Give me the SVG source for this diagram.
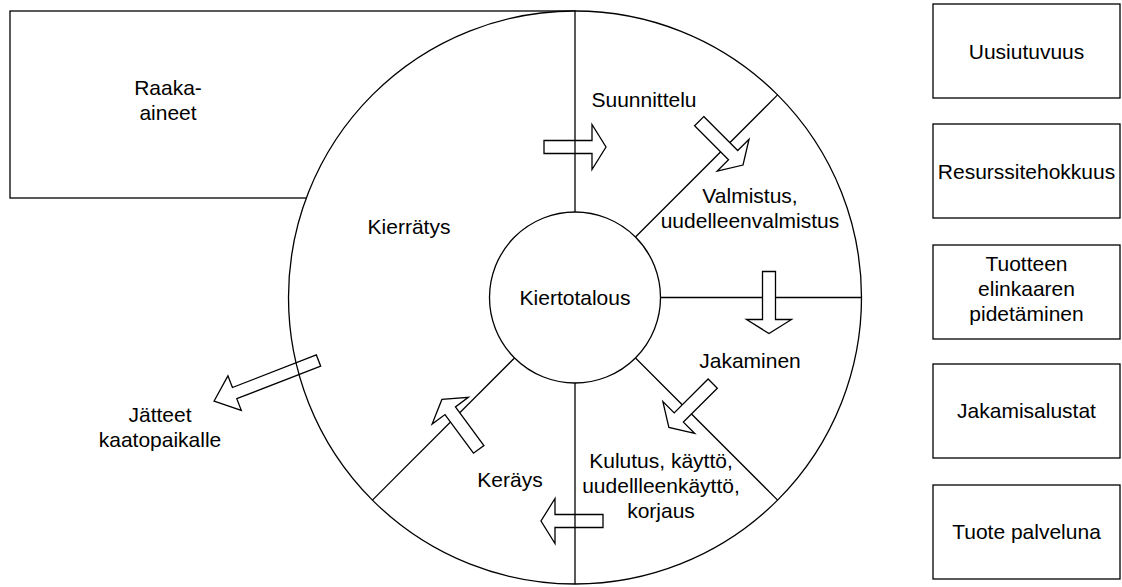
<svg xmlns="http://www.w3.org/2000/svg" width="1122" height="587" viewBox="0 0 1122 587">
<defs>
<style>
.ln{stroke:#000;stroke-width:1.3;fill:none}
.sh{stroke:#000;stroke-width:1.3;fill:#fff}
.ar{stroke:#000;stroke-width:1.3;fill:#fff;stroke-linejoin:miter}
.arn{stroke:#000;stroke-width:1.3;fill:none;stroke-linejoin:miter}
text{font-family:"Liberation Sans",Arial,sans-serif;font-size:21px;fill:#000;text-anchor:middle}
</style>
<path id="arw" d="M-31,-6.5 H17 V-22.5 L31,0 L17,22.5 V6.5 H-31 Z"/>
</defs>
<rect width="1122" height="587" fill="#fff"/>
<g id="raaka-aineet">
<rect class="sh" x="10" y="11" width="565" height="187"/>
</g>
<g id="outer-circle">
<circle class="sh" cx="575" cy="297.5" r="286.5"/>
</g>
<g id="connectors">
<line class="ln" x1="575" y1="212" x2="575" y2="11"/>
<line class="ln" x1="635.5" y1="237" x2="777.6" y2="94.9"/>
<line class="ln" x1="660.5" y1="297.5" x2="861.5" y2="297.5"/>
<line class="ln" x1="635.5" y1="358" x2="777.6" y2="500.1"/>
<line class="ln" x1="575" y1="383" x2="575" y2="584"/>
<line class="ln" x1="514.5" y1="358" x2="372.4" y2="500.1"/>
<use href="#arw" class="arn" transform="translate(575,147) rotate(0)"/>
<use href="#arw" class="ar" transform="translate(721.1,143.1) rotate(45)"/>
<use href="#arw" class="ar" transform="translate(769,302.5) rotate(90)"/>
<use href="#arw" class="ar" transform="translate(690.8,405.5) rotate(135)"/>
<use href="#arw" class="arn" transform="translate(572,521) rotate(180)"/>
<use href="#arw" class="ar" transform="translate(460.3,424.4) rotate(233.6)"/>
<path class="arn" d="M-56,-6 H34 V-18.5 L56,0 L34,18.5 V6 H-56 Z" transform="translate(266.3,380.8) rotate(158.8)"/>
</g>
<g id="kiertotalous">
<circle class="sh" cx="575" cy="297.5" r="85.5"/>
<text x="575" y="305">Kiertotalous</text>
</g>
<g id="labels">
<text x="168" y="95">Raaka-</text>
<text x="168" y="120">aineet</text>
<text x="409" y="234">Kierrätys</text>
<text x="644" y="107">Suunnittelu</text>
<text x="750" y="203">Valmistus,</text>
<text x="750" y="228">uudelleenvalmistus</text>
<text x="750" y="368">Jakaminen</text>
<text x="661" y="468">Kulutus, käyttö,</text>
<text x="661" y="493">uudellleenkäyttö,</text>
<text x="661" y="518">korjaus</text>
<text x="510" y="487">Keräys</text>
<text x="160" y="422">Jätteet</text>
<text x="160" y="447">kaatopaikalle</text>
</g>
<g id="uusiutuvuus">
<rect class="sh" x="933" y="4" width="187" height="94"/>
<text x="1026.5" y="58.5">Uusiutuvuus</text>
</g>
<g id="resurssitehokkuus">
<rect class="sh" x="933" y="124" width="187" height="94"/>
<text x="1026.5" y="178.5">Resurssitehokkuus</text>
</g>
<g id="tuotteen-elinkaari">
<rect class="sh" x="933" y="245" width="187" height="94"/>
<text x="1026.5" y="271">Tuotteen</text>
<text x="1026.5" y="296">elinkaaren</text>
<text x="1026.5" y="321">pidetäminen</text>
</g>
<g id="jakamisalustat">
<rect class="sh" x="933" y="364" width="187" height="94"/>
<text x="1026.5" y="418">Jakamisalustat</text>
</g>
<g id="tuote-palveluna">
<rect class="sh" x="933" y="485" width="187" height="94"/>
<text x="1026.5" y="538.5">Tuote palveluna</text>
</g>
</svg>
